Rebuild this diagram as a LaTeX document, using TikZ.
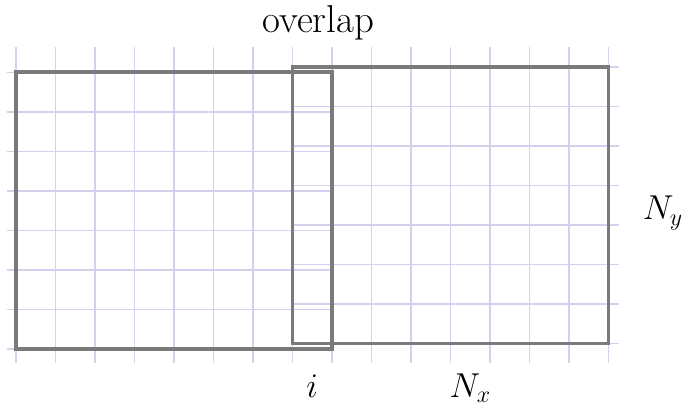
\documentclass[tikz,border=0pt]{standalone}
\usepackage{amsmath,amssymb}
\usepackage{tikz}
\usetikzlibrary{positioning}
\definecolor{gridlav}{RGB}{210,210,238}
\definecolor{boxgray}{RGB}{122,122,122}

\begin{document}
\begin{tikzpicture}[line width=1pt]
\tikzset{
  gridline/.style={gridlav, line width=1.1pt},
  block/.style={boxgray, line width=2.3pt},
  lbl/.style={inner sep=0pt, anchor=base, font=\fontsize{26}{30}\selectfont}
}

\useasboundingbox (-0.405,-1.57) rectangle (16.835,8.835);

% left grid
\begin{scope}[shift={(0,0)}]
\foreach \k in {0,...,8}
  \draw[gridline] (\k,-0.35) to (\k,7.65);
\foreach \k in {0,...,7}
  \draw[gridline] (-0.23,\k) to (8,\k);
\end{scope}

% right grid
\begin{scope}[shift={(7,0.14)}]
\foreach \k in {0,...,8}
  \draw[gridline] (\k,-0.49) to (\k,7.51);
\foreach \k in {0,...,7}
  \draw[gridline] (0,\k) to (8.27,\k);
\end{scope}

\draw[block]
  (0,0) rectangle (8,7.01);
\draw[block]
  (7,0.14) rectangle (15,7.14);

\node[lbl, font=\fontsize{28}{33}\selectfont] (overlap) at (7.65,8.02) {overlap};

\node[lbl] (idx) at (7.5,-1.22) {$i$};

\node[lbl] (nx) at (11.5,-1.22) {$N_x$};

\node[lbl, anchor=base west] (ny) at (15.85,3.27) {$N_y$};

\end{tikzpicture}
\end{document}
